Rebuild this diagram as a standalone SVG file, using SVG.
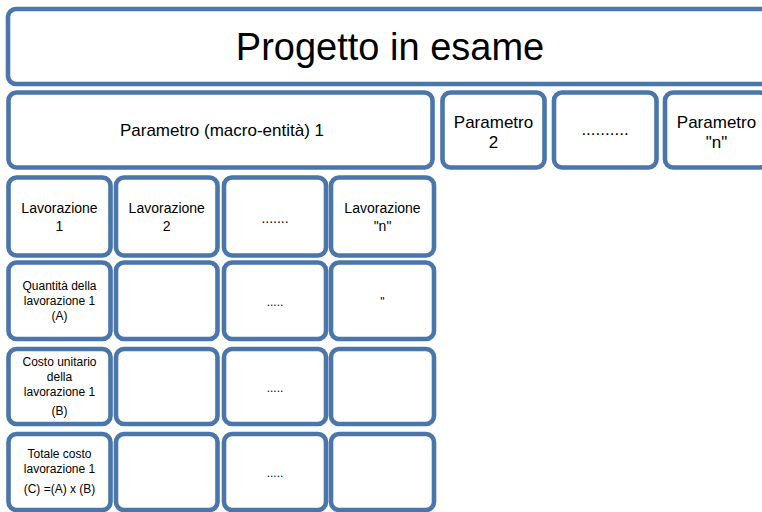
<svg xmlns="http://www.w3.org/2000/svg" width="762" height="512" viewBox="0 0 762 512">
<style>
.b{fill:#ffffff;stroke:#4a76ac;stroke-width:4.6}
text{font-family:"Liberation Sans",Arial,sans-serif;fill:#000000;text-anchor:middle}
.t1{font-size:38px}
.t2{font-size:17px}
.t3{font-size:14px}
.t4{font-size:12px}
</style>
<rect width="762" height="512" fill="#ffffff"/>
<g id="progetto"><rect class="b" x="8" y="9" width="800" height="75" rx="8"/><text class="t1" x="390" y="60">Progetto in esame</text></g>
<g id="param1"><rect class="b" x="8.5" y="92.5" width="424" height="75" rx="8"/><text class="t2" x="222" y="136">Parametro (macro-entità) 1</text></g>
<g id="param2"><rect class="b" x="442.5" y="92.5" width="102" height="75" rx="8"/><text class="t2" x="493.5" y="127.5">Parametro</text><text class="t2" x="493.5" y="147.5">2</text></g>
<g id="paramdots"><rect class="b" x="554" y="92.5" width="102.5" height="75" rx="8"/><text class="t2" x="605" y="135">..........</text></g>
<g id="paramn"><rect class="b" x="665" y="92.5" width="103" height="75" rx="8"/><text class="t2" x="716.5" y="127.5">Parametro</text><text class="t2" x="716.5" y="147.5">"n"</text></g>

<g id="lav1"><rect class="b" x="8.5" y="177.5" width="102" height="78" rx="8"/><text class="t3" x="59.5" y="213">Lavorazione</text><text class="t3" x="59.5" y="230.5">1</text></g>
<g id="lav2"><rect class="b" x="116" y="177.5" width="101.5" height="78" rx="8"/><text class="t3" x="166.75" y="213">Lavorazione</text><text class="t3" x="166.75" y="230.5">2</text></g>
<g id="lavdots"><rect class="b" x="224" y="177.5" width="102" height="78" rx="8"/><text class="t3" x="275" y="222.5">.......</text></g>
<g id="lavn"><rect class="b" x="331" y="177.5" width="103" height="78" rx="8"/><text class="t3" x="382.5" y="213">Lavorazione</text><text class="t3" x="382.5" y="230.5">"n"</text></g>

<g id="q1"><rect class="b" x="8.5" y="262.5" width="102" height="76.5" rx="8"/><text class="t4" x="59.5" y="290">Quantità della</text><text class="t4" x="59.5" y="305">lavorazione 1</text><text class="t4" x="59.5" y="320">(A)</text></g>
<g id="q2"><rect class="b" x="116" y="262.5" width="101.5" height="76.5" rx="8"/></g>
<g id="qdots"><rect class="b" x="224" y="262.5" width="102" height="76.5" rx="8"/><text class="t4" x="275" y="306">.....</text></g>
<g id="qn"><rect class="b" x="331" y="262.5" width="103" height="76.5" rx="8"/><text class="t4" x="382.5" y="306">"</text></g>

<g id="c1"><rect class="b" x="8.5" y="349" width="102" height="75" rx="8"/><text class="t4" x="59.5" y="366">Costo unitario</text><text class="t4" x="59.5" y="381">della</text><text class="t4" x="59.5" y="396">lavorazione 1</text><text class="t4" x="59.5" y="415">(B)</text></g>
<g id="c2"><rect class="b" x="116" y="349" width="101.5" height="75" rx="8"/></g>
<g id="cdots"><rect class="b" x="224" y="349" width="102" height="75" rx="8"/><text class="t4" x="275" y="391.5">.....</text></g>
<g id="cn"><rect class="b" x="331" y="349" width="103" height="75" rx="8"/></g>

<g id="t1"><rect class="b" x="8.5" y="434" width="102" height="76" rx="8"/><text class="t4" x="59.5" y="458">Totale costo</text><text class="t4" x="59.5" y="473">lavorazione 1</text><text class="t4" x="59.5" y="492.5">(C) =(A) x (B)</text></g>
<g id="t2"><rect class="b" x="116" y="434" width="101.5" height="76" rx="8"/></g>
<g id="tdots"><rect class="b" x="224" y="434" width="102" height="76" rx="8"/><text class="t4" x="275" y="476.5">.....</text></g>
<g id="tn"><rect class="b" x="331" y="434" width="103" height="76" rx="8"/></g>
<g id="connectors"></g>
</svg>
